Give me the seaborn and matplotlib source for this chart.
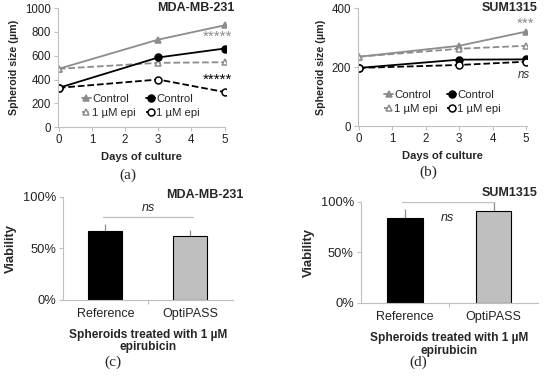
import numpy as np
import pandas as pd
import matplotlib
matplotlib.use("Agg")
import matplotlib.pyplot as plt
import seaborn as sns

# ---------------- data ----------------
days = [0, 3, 5]
# MDA-MB-231 spheroid size (um)
mda_ctrl_gray = [490, 735, 855]
mda_epi_gray = [490, 540, 545]
mda_ctrl_black = [330, 585, 660]
mda_epi_black = [330, 400, 295]
# SUM1315 spheroid size (um)
sum_ctrl_gray = [235, 272, 320]
sum_epi_gray = [235, 262, 272]
sum_ctrl_black = [197, 225, 226]
sum_epi_black = [197, 207, 218]

bar_cats = ["Reference", "OptiPASS"]
mda_viab = [67, 62]
mda_viab_err = [7, 6]
sum_viab = [84, 91]
sum_viab_err = [9, 10]

GRAY = "#8c8c8c"
SPINE = "#bfbfbf"

sns.set_style("white")
plt.rcParams["font.family"] = ["Liberation Sans", "DejaVu Sans"]

fig = plt.figure(figsize=(5.5, 3.83), dpi=100)


def style_axes(ax, size):
    sns.despine(ax=ax)
    for s in ["left", "bottom"]:
        ax.spines[s].set_color(SPINE)
        ax.spines[s].set_linewidth(0.8)
    ax.tick_params(axis="both", which="both", length=3, width=0.8, color=SPINE,
                   labelsize=size, pad=2, direction="out", left=True, bottom=True,
                   labelcolor="#222222")


def line_panel(ax, cg, eg, cb, eb, ymax, ystep, title, title_x, legend_anchor, colsp):
    series = [
        ("Control", cg, GRAY, "^", GRAY, "-"),
        ("1 \u00b5M epi", eg, GRAY, "^", "white", "--"),
        ("Control", cb, "black", "o", "black", "-"),
        ("1 \u00b5M epi", eb, "black", "o", "white", "--"),
    ]
    for lab, vals, col, mk, fc, ls in series:
        sns.lineplot(x=days, y=vals, ax=ax, color=col, marker=mk, markersize=5,
                     markerfacecolor=fc, markeredgecolor=col, markeredgewidth=1.1,
                     linestyle=ls, linewidth=1.3, label=lab)
    ax.set_xlim(-0.03, 5.03)
    ax.set_ylim(0, ymax)
    ax.set_xticks(range(6))
    ax.set_yticks(np.arange(0, ymax + 1, ystep))
    style_axes(ax, 8.3)
    ax.set_xlabel("Days of culture", fontsize=8, fontweight="bold", labelpad=4)
    ax.set_ylabel("Spheroid size (\u00b5m)", fontsize=7.7, fontweight="bold", labelpad=4)
    ax.text(title_x, 1.0, title, transform=ax.transAxes, ha="right", va="center",
            fontsize=9, fontweight="bold")
    ax.legend(ncol=2, frameon=False, fontsize=8.2, handlelength=0.8, handletextpad=0.1,
              columnspacing=colsp, labelspacing=0.4, borderpad=0,
              loc="upper left", bbox_to_anchor=legend_anchor)


# (a) MDA-MB-231 growth
ax_a = fig.add_axes([0.105, 0.668, 0.305, 0.311])
line_panel(ax_a, mda_ctrl_gray, mda_epi_gray, mda_ctrl_black, mda_epi_black,
           1000, 200, "MDA-MB-231", 1.055, (0.11, 0.33), 0.9)
ax_a.text(4.78, 755, "*****", color=GRAY, fontsize=11, ha="center", va="center")
ax_a.text(4.78, 395, "*****", color="black", fontsize=11, ha="center", va="center")

# (b) SUM1315 growth
ax_b = fig.add_axes([0.651, 0.671, 0.307, 0.308])
line_panel(ax_b, sum_ctrl_gray, sum_epi_gray, sum_ctrl_black, sum_epi_black,
           400, 200, "SUM1315", 1.065, (0.12, 0.355), 0.8)
ax_b.text(4.98, 345, "***", color=GRAY, fontsize=11, ha="center", va="center")
ax_b.text(4.93, 173, "ns", color="#333333", fontsize=8.3, style="italic",
          ha="center", va="center")


def bar_panel(ax, vals, errs, title, title_xy):
    sns.barplot(x=bar_cats, y=vals, ax=ax, palette=["black", "#bfbfbf"],
                hue=bar_cats, legend=False, width=0.4, edgecolor=["black", "#999999"],
                linewidth=0.8)
    ax.errorbar(range(len(vals)), vals, yerr=errs, fmt="none", ecolor=GRAY,
                elinewidth=0.9, capsize=0, zorder=0)
    ax.set_ylim(0, 100)
    ax.set_xlim(-0.5, 1.5)
    ax.set_yticks([0, 50, 100])
    ax.set_yticklabels(["0%", "50%", "100%"])
    style_axes(ax, 9.3)
    ax.set_xticks([0.5], minor=True)
    ax.tick_params(axis="x", which="major", length=0, labelsize=9, pad=6)
    ax.set_ylabel("Viability", fontsize=9.4, fontweight="bold", labelpad=4)
    ax.set_xlabel("Spheroids treated with 1 \u00b5M\nepirubicin", fontsize=8.6,
                  fontweight="bold", labelpad=6, linespacing=1.1)
    ax.text(title_xy[0], title_xy[1], title, transform=ax.transAxes, ha="right",
            va="center", fontsize=9, fontweight="bold")


# (c) MDA-MB-231 viability
ax_c = fig.add_axes([0.1145, 0.217, 0.309, 0.269])
bar_panel(ax_c, mda_viab, mda_viab_err, "MDA-MB-231", (1.06, 1.02))
ax_c.plot([-0.03, 1.03], [80, 80], color=SPINE, linewidth=0.9)
ax_c.text(0.5, 89, "ns", fontsize=9, style="italic", ha="center", va="center")

# (d) SUM1315 viability
ax_d = fig.add_axes([0.656, 0.209, 0.322, 0.264])
bar_panel(ax_d, sum_viab, sum_viab_err, "SUM1315", (1.0, 1.09))
ax_d.plot([-0.03, 1.0], [100, 100], color=SPINE, linewidth=0.9)
ax_d.text(0.48, 84, "ns", fontsize=9, style="italic", ha="center", va="center")

# panel letters
for x, y, t in [(128, 175, "(a)"), (428, 172, "(b)"), (113, 362, "(c)"), (418, 362, "(d)")]:
    fig.text(x / 550, 1 - y / 383, t, ha="center", va="center", fontsize=11,
             family=["Liberation Serif", "DejaVu Serif"])

fig.savefig("out.png", dpi=100, facecolor="white")
